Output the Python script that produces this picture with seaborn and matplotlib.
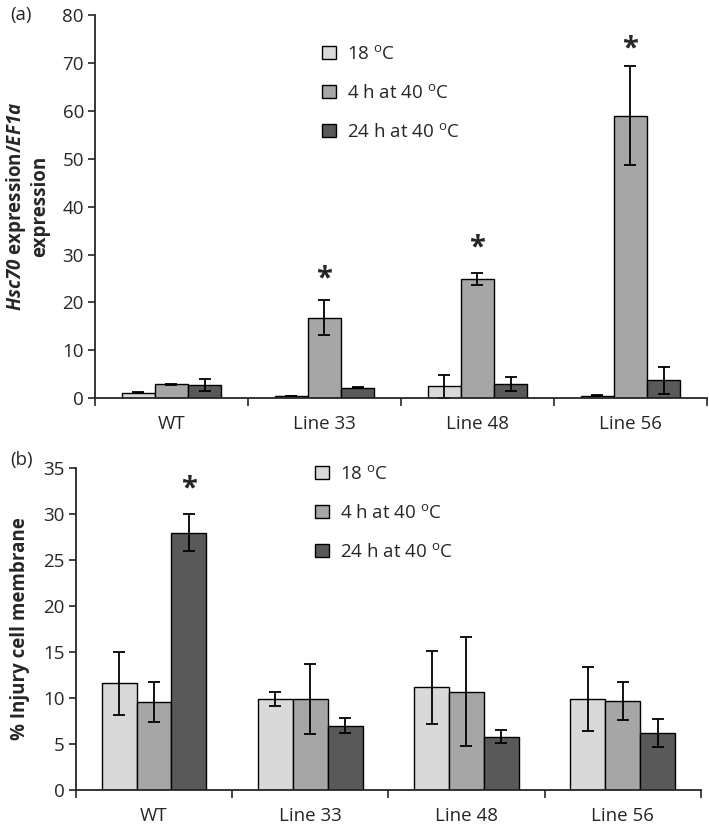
"""
Hsc70 expression and membrane injury in WT and transgenic lines.

Two stacked grouped bar charts with error bars and significance marks.
"""

import matplotlib
matplotlib.use("Agg")
import matplotlib.pyplot as plt
from matplotlib.patches import Patch
import pandas as pd
import seaborn as sns

# Categories and treatments
lines = ["WT", "Line 33", "Line 48", "Line 56"]
treatments = ["18 C", "4 h at 40 C", "24 h at 40 C"]
legend_labels = [
    r"18 $^{\mathrm{o}}$C",
    r"4 h at 40 $^{\mathrm{o}}$C",
    r"24 h at 40 $^{\mathrm{o}}$C",
]
colors = ["#d9d9d9", "#a6a6a6", "#595959"]

# Panel (a): Hsc70 / EF1a expression
hsc70_18 = [1.1, 0.4, 2.5, 0.5]
hsc70_18_err = [0.1, 0.05, 2.4, 0.05]
hsc70_4h = [2.85, 16.8, 24.8, 59.0]
hsc70_4h_err = [0.2, 3.65, 1.25, 10.4]
hsc70_24h = [2.8, 2.15, 2.9, 3.7]
hsc70_24h_err = [1.25, 0.1, 1.5, 2.9]
hsc70_sig = [None, 26.0, 32.5, 74.0]  # asterisk heights over the 4 h bars

# Panel (b): % injury of cell membrane
injury_18 = [11.6, 9.9, 11.15, 9.9]
injury_18_err = [3.45, 0.72, 4.0, 3.45]
injury_4h = [9.55, 9.9, 10.7, 9.65]
injury_4h_err = [2.15, 3.77, 5.9, 2.05]
injury_24h = [27.95, 7.0, 5.8, 6.2]
injury_24h_err = [2.0, 0.85, 0.72, 1.57]
injury_sig = [33.3, None, None, None]  # asterisk heights over the 24 h bars


def to_long(series):
    """Build a long-form frame from per-treatment value lists."""
    rows = []
    for treatment, values in zip(treatments, series):
        for line, value in zip(lines, values):
            rows.append({"Line": line, "Treatment": treatment, "Value": value})
    return pd.DataFrame(rows)


sns.set_style("ticks")
plt.rcParams["font.family"] = ["Open Sans", "DejaVu Sans"]
plt.rcParams["mathtext.fontset"] = "custom"
plt.rcParams["mathtext.rm"] = "Open Sans"
plt.rcParams["mathtext.it"] = "Open Sans:italic"
plt.rcParams["mathtext.bf"] = "Open Sans:bold"
plt.rcParams["mathtext.bfit"] = "Open Sans:italic:bold"

FS = 13.5


def draw_panel(ax, df, errors, sig, sig_level, width, ylim, step, ylabel,
               label_x, legend_pos, fig):
    sns.barplot(
        data=df, x="Line", y="Value", hue="Treatment",
        order=lines, hue_order=treatments, palette=colors,
        edgecolor="black", linewidth=1.0, width=width,
        errorbar=None, legend=False, ax=ax,
    )
    for container, err in zip(ax.containers, errors):
        xs = [p.get_x() + p.get_width() / 2 for p in container.patches]
        ys = [p.get_height() for p in container.patches]
        ax.errorbar(xs, ys, yerr=err, fmt="none", ecolor="black",
                    elinewidth=1.3, capsize=4, capthick=1.3)

    # significance asterisks
    for i, h in enumerate(sig):
        if h is None:
            continue
        p = ax.containers[sig_level].patches[i]
        ax.annotate("*", (p.get_x() + p.get_width() / 2, h),
                    xytext=(0, -4), textcoords="offset points",
                    ha="center", va="center", fontsize=21,
                    fontweight="bold")

    ax.set_xlim(-0.5, len(lines) - 0.5)
    ax.set_ylim(*ylim)
    ax.set_yticks(range(ylim[0], ylim[1] + 1, step))
    ax.set_xticks(range(len(lines)))
    ax.set_xticks([i - 0.5 for i in range(len(lines) + 1)], minor=True)
    ax.tick_params(axis="x", which="major", length=0, labelsize=FS, pad=12)
    ax.tick_params(axis="x", which="minor", length=6, width=1.2,
                   direction="out", color="#262626")
    ax.tick_params(axis="y", length=5, width=1.2, labelsize=FS,
                   color="#262626", pad=3)
    ax.set_xlabel("")
    ax.set_ylabel(ylabel, fontsize=FS, fontweight="bold", linespacing=1.1)
    ax.yaxis.set_label_coords(label_x, 0.5)
    sns.despine(ax=ax)
    for side in ["left", "bottom"]:
        ax.spines[side].set_linewidth(1.3)
        ax.spines[side].set_color("#262626")

    handles = [Patch(facecolor=c, edgecolor="black", linewidth=1.0)
               for c in colors]
    ax.legend(
        handles, legend_labels, loc="upper left",
        bbox_to_anchor=legend_pos, bbox_transform=fig.transFigure,
        frameon=False, fontsize=FS, handlelength=0.75, handleheight=0.75,
        handletextpad=0.6, labelspacing=1.12, borderpad=0,
        borderaxespad=0,
    )


fig = plt.figure(figsize=(7.09, 8.26), dpi=100)
ax_a = fig.add_axes([0.134, 0.518, 0.863, 0.4637])
ax_b = fig.add_axes([0.107, 0.0436, 0.8815, 0.3898])

df_a = to_long([hsc70_18, hsc70_4h, hsc70_24h])
draw_panel(
    ax_a, df_a, [hsc70_18_err, hsc70_4h_err, hsc70_24h_err],
    hsc70_sig, 1, 0.65, (0, 80), 10,
    r"$\mathbfit{Hsc70}$ expression/$\mathbfit{EF1a}$" + "\nexpression",
    -0.074, (322 / 709, 1 - 45 / 826), fig,
)

df_b = to_long([injury_18, injury_4h, injury_24h])
draw_panel(
    ax_b, df_b, [injury_18_err, injury_4h_err, injury_24h_err],
    injury_sig, 2, 0.67, (0, 35), 5,
    "% Injury cell membrane",
    -0.073, (315 / 709, 1 - 465 / 826), fig,
)

fig.text(10 / 709, 1 - 15 / 826, "(a)", fontsize=FS, va="center")
fig.text(10 / 709, 1 - 460 / 826, "(b)", fontsize=FS, va="center")

fig.savefig("out.png", dpi=100)
